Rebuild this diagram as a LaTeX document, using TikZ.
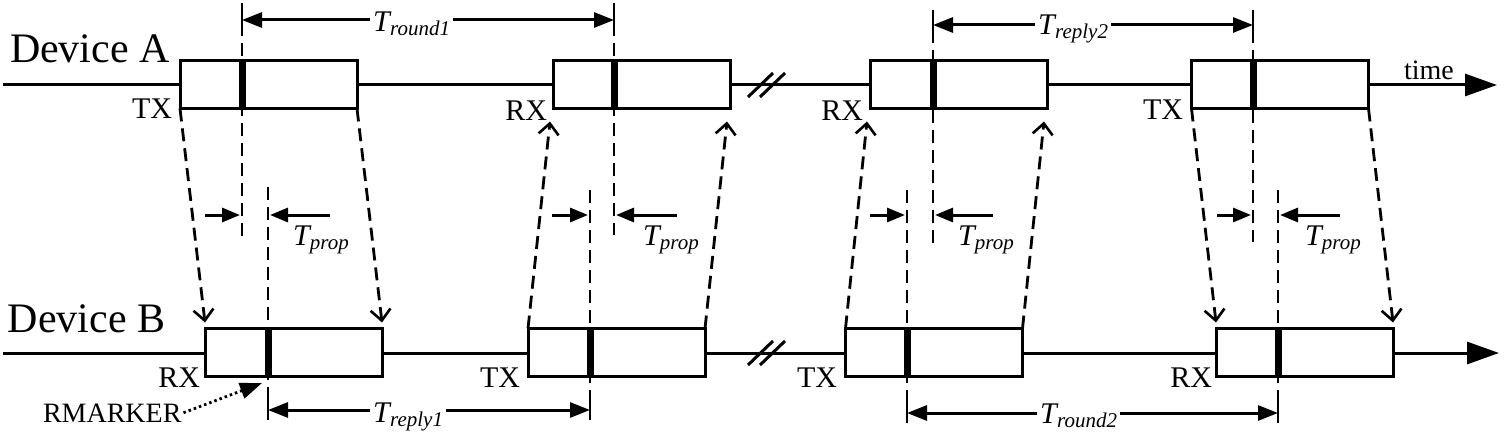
\documentclass[tikz,border=0pt]{standalone}
\usepackage{fontspec}
\setmainfont{Liberation Serif}
\usetikzlibrary{arrows.meta}
\newcommand{\devfont}{\fontsize{42}{42}\selectfont}
\newcommand{\lblfont}{\fontsize{30}{30}\selectfont}
\newcommand{\Tdim}[1]{\fontsize{30}{30}\selectfont\textit{T}\kern-1.5pt\raisebox{-4pt}{\fontsize{21}{21}\selectfont\itshape #1}}
\tikzset{
  pkt/.style={draw, line width=3pt, fill=white, minimum width=177pt, minimum height=48pt, inner sep=0pt, outer sep=0pt},
  tl/.style={line width=3pt},
  mk/.style={line width=7pt},
  dsh/.style={line width=2.8pt, dash pattern=on 13pt off 7pt},
  tick/.style={line width=2.8pt},
  sig/.style={dsh, -{Straight Barb[length=11pt,width=20pt,line width=2.6pt]}},
  dim/.style={line width=3pt, {Triangle[length=20pt,width=15pt]}-{Triangle[length=20pt,width=15pt]}},
  prop/.style={line width=3pt, -{Triangle[length=18pt,width=14pt]}},
  txt/.style={inner sep=0pt, outer sep=0pt},
  dimlbl/.style={fill=white, inner sep=3pt, anchor=base west},
  brk/.style={line width=3pt},
  axis/.style={tl, -{Triangle[length=32pt,width=22pt]}}
}
\begin{document}
\begin{tikzpicture}[x=1pt,y=-1pt]
\useasboundingbox (0,0) rectangle (1505,436);
% timelines
\coordinate (As) at (3,85); \coordinate (Ae) at (1497,85);
\coordinate (Bs) at (3,353); \coordinate (Be) at (1499,353);
\draw[axis] (As) -- (Ae);
\draw[axis] (Bs) -- (Be);
% break marks
\coordinate (k1a) at (748,97); \coordinate (k1b) at (773,73);
\coordinate (k2a) at (760,97); \coordinate (k2b) at (785,73);
\coordinate (k3a) at (748,365); \coordinate (k3b) at (773,341);
\coordinate (k4a) at (760,365); \coordinate (k4b) at (785,341);
\draw[brk] (k1a) -- (k1b); \draw[brk] (k2a) -- (k2b);
\draw[brk] (k3a) -- (k3b); \draw[brk] (k4a) -- (k4b);
% packet boxes
\node[pkt] (a1) at (268.5,84.5) {};
\node[pkt] (a2) at (641.5,84.5) {};
\node[pkt] (a3) at (958.5,84.5) {};
\node[pkt] (a4) at (1280,84.5) {};
\node[pkt] (b1) at (293.5,352.5) {};
\node[pkt] (b2) at (616.5,352.5) {};
\node[pkt] (b3) at (934,352.5) {};
\node[pkt] (b4) at (1304.5,352.5) {};
% marker dashed lines
\coordinate (ma1t) at (242,3);  \coordinate (ma1b) at (242,237);
\coordinate (ma2t) at (614,3);  \coordinate (ma2b) at (614,235);
\coordinate (ma3t) at (933,10); \coordinate (ma3b) at (933,245);
\coordinate (ma4t) at (1253,10);\coordinate (ma4b) at (1253,242);
\coordinate (mb1t) at (268,187); \coordinate (mb1b) at (268,425);
\coordinate (mb2t) at (590,190); \coordinate (mb2b) at (590,420);
\coordinate (mb3t) at (907,190); \coordinate (mb3b) at (907,425);
\coordinate (mb4t) at (1278,190);\coordinate (mb4b) at (1278,425);
\foreach \m in {ma1,ma2,ma3,ma4,mb1,mb2,mb3,mb4}{
  \draw[dsh] (\m t) -- (\m b);
}
% thick markers inside boxes
\draw[mk] (ma1t |- a1.north) -- (ma1t |- a1.south);
\draw[mk] (ma2t |- a2.north) -- (ma2t |- a2.south);
\draw[mk] (ma3t |- a3.north) -- (ma3t |- a3.south);
\draw[mk] (ma4t |- a4.north) -- (ma4t |- a4.south);
\draw[mk] (mb1t |- b1.north) -- (mb1t |- b1.south);
\draw[mk] (mb2t |- b2.north) -- (mb2t |- b2.south);
\draw[mk] (mb3t |- b3.north) -- (mb3t |- b3.south);
\draw[mk] (mb4t |- b4.north) -- (mb4t |- b4.south);
% signal lines
\draw[sig] (a1.south west) -- ([yshift=6pt]b1.north west);
\draw[sig] (a1.south east) -- ([yshift=6pt]b1.north east);
\draw[sig] (b2.north west) -- ([xshift=-3pt,yshift=-13pt]a2.south west);
\draw[sig] (b2.north east) -- ([xshift=-3pt,yshift=-13pt]a2.south east);
\draw[sig] (b3.north west) -- ([xshift=-3pt,yshift=-13pt]a3.south west);
\draw[sig] (b3.north east) -- ([xshift=-3pt,yshift=-13pt]a3.south east);
\draw[sig] (a4.south west) -- ([yshift=6pt]b4.north west);
\draw[sig] (a4.south east) -- ([yshift=6pt]b4.north east);
% dimension lines
\coordinate (d1l) at (242,20); \coordinate (d1r) at (614,20);
\coordinate (d2l) at (933,25); \coordinate (d2r) at (1253,25);
\coordinate (d3l) at (268,410); \coordinate (d3r) at (590,410);
\coordinate (d4l) at (907,413); \coordinate (d4r) at (1278,413);
\foreach \d in {d1,d2,d3,d4}{
  \draw[tick] ([yshift=10pt]\d l) -- ([yshift=-10pt]\d l);
  \draw[tick] ([yshift=10pt]\d r) -- ([yshift=-10pt]\d r);
  \draw[dim] (\d l) -- (\d r);
}
\node[dimlbl] (l1) at (370,32) {\Tdim{round1}};
\node[dimlbl] (l2) at (1035,35) {\Tdim{reply2}};
\node[dimlbl] (l3) at (370,422) {\Tdim{reply1}};
\node[dimlbl] (l4) at (1037,423) {\Tdim{round2}};
% propagation arrows
\coordinate (p1a) at (205,215); \coordinate (p1b) at (240,215);
\coordinate (p1c) at (330,215); \coordinate (p1d) at (270,215);
\coordinate (p2a) at (552,215); \coordinate (p2b) at (588,215);
\coordinate (p2c) at (677,215); \coordinate (p2d) at (616,215);
\coordinate (p3a) at (870,215); \coordinate (p3b) at (905,215);
\coordinate (p3c) at (993,215); \coordinate (p3d) at (935,215);
\coordinate (p4a) at (1217,215); \coordinate (p4b) at (1251,215);
\coordinate (p4c) at (1340,215); \coordinate (p4d) at (1280,215);
\foreach \p in {p1,p2,p3,p4}{
  \draw[prop] (\p a) -- (\p b);
  \draw[prop] (\p c) -- (\p d);
}
\node[txt, anchor=base west] (tp1) at (293,245) {\Tdim{prop}};
\node[txt, anchor=base west] (tp2) at (643,245) {\Tdim{prop}};
\node[txt, anchor=base west] (tp3) at (958,245) {\Tdim{prop}};
\node[txt, anchor=base west] (tp4) at (1305,245) {\Tdim{prop}};
% device labels
\node[txt, anchor=base west] (devA) at (10,63) {\devfont Device A};
\node[txt, anchor=base west] (devB) at (8,332) {\devfont Device B};
\node[txt, anchor=base west] (time) at (1404,80) {\fontsize{28}{28}\selectfont time};
% TX / RX labels
\node[txt, anchor=base east] (la1) at (172,118) {\lblfont TX};
\node[txt, anchor=base east] (la2) at (547,120) {\lblfont RX};
\node[txt, anchor=base east] (la3) at (863,120) {\lblfont RX};
\node[txt, anchor=base east] (la4) at (1183,119) {\lblfont TX};
\node[txt, anchor=base east] (lb1) at (200,387) {\lblfont RX};
\node[txt, anchor=base east] (lb2) at (520,387) {\lblfont TX};
\node[txt, anchor=base east] (lb3) at (837,387) {\lblfont TX};
\node[txt, anchor=base east] (lb4) at (1212,387) {\lblfont RX};
% RMARKER
\node[txt, anchor=base west] (rm) at (43,422) {\fontsize{28}{28}\selectfont RMARKER};
\coordinate (rmtip) at (262,383);
\draw[line width=2.8pt, dash pattern=on 2.5pt off 3pt, -{Triangle[length=22pt,width=16pt]}] ([xshift=2pt]rm.east) -- (rmtip);
\end{tikzpicture}
\end{document}
